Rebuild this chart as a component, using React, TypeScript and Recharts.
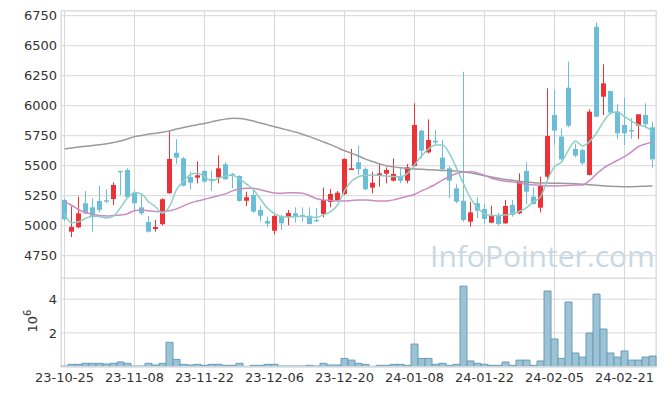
import React from 'react';
import { ComposedChart, Bar, Line, XAxis, YAxis, CartesianGrid } from 'recharts';

// trading days, 23-10-25 .. 24-02-27
const dates = [
    '23-10-25', '23-10-26', '23-10-27', '23-10-30', '23-10-31',
    '23-11-01', '23-11-02', '23-11-03', '23-11-06', '23-11-07', '23-11-08', '23-11-09', '23-11-10',
    '23-11-13', '23-11-14', '23-11-15', '23-11-16', '23-11-17', '23-11-20', '23-11-21', '23-11-22',
    '23-11-23', '23-11-24', '23-11-27', '23-11-28', '23-11-29', '23-11-30',
    '23-12-01', '23-12-04', '23-12-05', '23-12-06', '23-12-07', '23-12-08', '23-12-11', '23-12-12',
    '23-12-13', '23-12-14', '23-12-15', '23-12-18', '23-12-19', '23-12-20', '23-12-21', '23-12-22',
    '23-12-26', '23-12-27', '23-12-28',
    '24-01-02', '24-01-03', '24-01-04', '24-01-05', '24-01-08', '24-01-09', '24-01-10', '24-01-11',
    '24-01-12', '24-01-15', '24-01-16', '24-01-17', '24-01-18', '24-01-19', '24-01-22', '24-01-23',
    '24-01-24', '24-01-25', '24-01-26', '24-01-29', '24-01-30', '24-01-31',
    '24-02-01', '24-02-02', '24-02-05', '24-02-06', '24-02-07', '24-02-08', '24-02-13', '24-02-14',
    '24-02-15', '24-02-16', '24-02-19', '24-02-20', '24-02-21', '24-02-22', '24-02-23', '24-02-26',
    '24-02-27',
];

const opens = [
    5214, 4950, 4987, 5187, 5153, 5206, 5212, 5222, 5456, 5464, 5275, 5153, 5031, 4972, 5012,
    5270, 5608, 5561, 5406, 5400, 5456, 5387, 5403, 5512, 5431, 5414, 5208, 5256, 5131, 5039,
    4958, 5081, 5072, 5103, 5089, 5083, 5047, 5097, 5198, 5214, 5264, 5464, 5528, 5472, 5317,
    5417, 5433, 5375, 5408, 5375, 5498, 5792, 5611, 5708, 5567, 5478, 5311, 5208, 5033, 5187,
    5139, 5025, 5089, 5020, 5172, 5103, 5456, 5242, 5150, 5408, 5922, 5742, 6150, 5639, 5631,
    5423, 6658, 6075, 6122, 5950, 5839, 5797, 5833, 5922, 5820,
];
const highs = [
    5225, 5160, 5242, 5289, 5228, 5330, 5303, 5361, 5458, 5478, 5297, 5256, 5081, 5047, 5228,
    5789, 5720, 5572, 5450, 5537, 5464, 5460, 5587, 5528, 5440, 5420, 5283, 5297, 5165, 5075,
    5090, 5089, 5131, 5153, 5153, 5153, 5145, 5317, 5306, 5289, 5560, 5640, 5667, 5486, 5450,
    5520, 5486, 5561, 5478, 5514, 6020, 5800, 5886, 5797, 5714, 5495, 5345, 6283, 5200, 5237,
    5181, 5167, 5108, 5214, 5214, 5436, 5528, 5320, 5408, 6145, 6131, 5811, 6367, 5686, 5640,
    5970, 6695, 6345, 6125, 6011, 6067, 5895, 5928, 6020, 5867,
];
const lows = [
    5040, 4905, 4978, 5095, 4950, 5110, 5187, 5172, 5256, 5232, 5131, 5089, 4942, 4950, 5003,
    5267, 5514, 5328, 5303, 5353, 5358, 5290, 5353, 5380, 5311, 5200, 5164, 5106, 5033, 4987,
    4928, 4964, 5003, 5025, 5033, 5012, 5030, 5070, 5153, 5206, 5255, 5464, 5423, 5297, 5270,
    5325, 5353, 5367, 5353, 5353, 5492, 5561, 5603, 5681, 5465, 5228, 5187, 5033, 4992, 5062,
    5014, 5020, 5000, 5015, 5075, 5095, 5180, 5175, 5111, 5390, 5672, 5545, 5820, 5570, 5506,
    5418, 5905, 5922, 5938, 5723, 5672, 5723, 5723, 5811, 5483,
];
const closes = [
    5053, 4990, 5103, 5103, 5070, 5131, 5200, 5339, 5445, 5237, 5187, 5103, 4950, 4989, 5220,
    5556, 5567, 5333, 5358, 5420, 5367, 5378, 5478, 5387, 5417, 5206, 5237, 5117, 5083, 5017,
    5081, 5020, 5106, 5081, 5078, 5014, 5036, 5214, 5264, 5275, 5556, 5478, 5472, 5303, 5358,
    5436, 5464, 5431, 5375, 5486, 5839, 5625, 5714, 5694, 5470, 5375, 5200, 5047, 5111, 5125,
    5056, 5089, 5014, 5164, 5089, 5372, 5283, 5181, 5331, 5747, 5792, 5553, 5833, 5583, 5520,
    5950, 5908, 6186, 5942, 5770, 5770, 5785, 5928, 5845, 5553,
];
const volumes = [
    40000, 140000, 140000, 200000, 200000, 200000, 160000, 200000, 280000, 200000, 40000, 40000,
    200000, 100000, 200000, 1440000, 430000, 140000, 100000, 140000, 80000, 140000, 140000, 80000,
    80000, 200000, 20000, 80000, 80000, 140000, 140000, 40000, 40000, 40000, 40000, 80000, 40000,
    200000, 100000, 100000, 490000, 390000, 200000, 140000, 20000, 80000, 80000, 140000, 140000,
    80000, 1340000, 490000, 490000, 140000, 200000, 80000, 140000, 4770000, 340000, 200000, 140000,
    80000, 80000, 280000, 80000, 390000, 390000, 80000, 340000, 4480000, 1640000, 490000, 3830000,
    810000, 570000, 1990000, 4300000, 2230000, 810000, 570000, 930000, 390000, 390000, 570000,
    630000,
];
// moving averages as drawn
const ma5 = [
    5103, 5025, 5033, 5060, 5081, 5075, 5064, 5080, 5150, 5230, 5275, 5265, 5200, 5158, 5103,
    5160, 5300, 5370, 5425, 5436, 5410, 5372, 5395, 5414, 5420, 5390, 5347, 5300, 5220, 5145,
    5100, 5075, 5072, 5075, 5078, 5072, 5070, 5090, 5117, 5172, 5290, 5370, 5408, 5420, 5422,
    5418, 5414, 5410, 5408, 5436, 5506, 5580, 5640, 5672, 5672, 5600, 5480, 5350, 5230, 5150,
    5100, 5085, 5085, 5089, 5100, 5120, 5150, 5200, 5240, 5381, 5492, 5530, 5630, 5705, 5664,
    5700, 5770, 5867, 5936, 5950, 5908, 5872, 5839, 5825, 5783,
];
const ma20 = [
    5200, 5170, 5135, 5110, 5095, 5085, 5081, 5085, 5089, 5100, 5125, 5131, 5125, 5118, 5117,
    5125, 5140, 5165, 5190, 5205, 5220, 5235, 5250, 5265, 5290, 5305, 5311, 5311, 5300, 5285,
    5272, 5270, 5275, 5275, 5270, 5250, 5225, 5215, 5210, 5206, 5206, 5210, 5214, 5214, 5210,
    5206, 5206, 5215, 5230, 5245, 5260, 5290, 5315, 5345, 5380, 5410, 5435, 5448, 5450, 5440,
    5420, 5395, 5380, 5370, 5365, 5355, 5345, 5340, 5335, 5332, 5331, 5332, 5335, 5338, 5340,
    5375, 5430, 5480, 5515, 5545, 5575, 5615, 5660, 5680, 5700,
];
const ma60 = [
    5640, 5648, 5655, 5662, 5668, 5675, 5683, 5693, 5705, 5722, 5742, 5752, 5762, 5770, 5778,
    5790, 5805, 5818, 5830, 5842, 5852, 5865, 5878, 5888, 5895, 5893, 5885, 5872, 5855, 5840,
    5825, 5810, 5795, 5780, 5762, 5742, 5720, 5698, 5675, 5650, 5625, 5605, 5581, 5555, 5535,
    5515, 5500, 5490, 5482, 5477, 5473, 5470, 5467, 5464, 5460, 5458, 5455, 5450, 5440, 5428,
    5416, 5405, 5395, 5385, 5378, 5370, 5364, 5358, 5356, 5355, 5354, 5353, 5352, 5350, 5346,
    5341, 5336, 5332, 5328, 5326, 5325, 5325, 5327, 5329, 5331,
];

const priceTicks = [4750, 5000, 5250, 5500, 5750, 6000, 6250, 6500, 6750];
const volTicks = [2000000, 4000000];

const rows = dates.map((date, i) => ({
    date,
    open: opens[i],
    high: highs[i],
    low: lows[i],
    close: closes[i],
    volume: volumes[i],
    ma5: ma5[i],
    ma20: ma20[i],
    ma60: ma60[i],
}));

const UP = '#ec3237';
const DOWN = '#6cbed8';
const GRID = '#d8d8d8';
const BORDER = '#e6e6e6';
const tickStyle = { fill: '#333', fontSize: 13, fontFamily: 'DejaVu Sans' };

const Candle = (props: any) => {
    const { x, y, width, height, payload } = props;
    const { open, close, high, low } = payload;
    const color = close >= open ? UP : DOWN;
    const top = Math.min(y, y + height);
    const h = Math.abs(height);
    const k = h / (high - low);
    const yo = top + (high - open) * k;
    const yc = top + (high - close) * k;
    const cx = x + width / 2;
    return (
        <g>
            <line x1={cx} x2={cx} y1={top} y2={top + h} stroke={color} strokeWidth={1} />
            <rect x={x} y={Math.min(yo, yc)} width={width} height={Math.max(Math.abs(yo - yc), 1)} fill={color} />
        </g>
    );
};

export default function App() {
    return (
        <div style={{ position: 'absolute', left: 0, top: 0, width: 665, height: 396, background: '#fff' }}>
            <svg width={665} height={396} style={{ position: 'absolute', left: 0, top: 0 }}>
                <text x={430} y={267} fontFamily="Open Sans" fontSize={30} fill="#c6d9e4">InfoPointer.com</text>
                <text x={37} y={321} transform="rotate(-90 37 321)" textAnchor="middle"
                    fontFamily="DejaVu Sans" fontSize={13} fill="#333">
                    10<tspan dy={-6} fontSize={10}>6</tspan>
                </text>
            </svg>
            <div style={{ position: 'absolute', left: 61, top: 10, width: 596, height: 357, boxSizing: 'border-box', border: `1px solid ${BORDER}` }} />
            <div style={{ position: 'absolute', left: 61, top: 278, width: 596, height: 1, background: BORDER }} />

            <div style={{ position: 'absolute', left: 0, top: 0 }}>
                <ComposedChart width={665} height={278} data={rows} margin={{ top: 11, right: 9, bottom: 0, left: 0 }} barCategoryGap={0}>
                    <CartesianGrid
                        stroke={GRID}
                        horizontal={{ strokeDasharray: '4 66', strokeDashoffset: 68.5 } as any}
                        vertical={{ strokeDasharray: '4 26', strokeDashoffset: 27.3 } as any}
                    />
                    <XAxis dataKey="date" hide interval={9} />
                    <YAxis width={61} domain={[4564, 6789]} ticks={priceTicks} allowDataOverflow
                        axisLine={false} tickLine={false} tickSize={0} tickMargin={4} tick={tickStyle} />
                    <Bar dataKey={(d: any) => [d.low, d.high]} barSize={5} shape={Candle} isAnimationActive={false} />
                    <Line dataKey="ma60" type="monotone" stroke="#9a9a9a" strokeWidth={1.5} dot={false} isAnimationActive={false} />
                    <Line dataKey="ma20" type="monotone" stroke="#c98cc3" strokeWidth={1.5} dot={false} isAnimationActive={false} />
                    <Line dataKey="ma5" type="monotone" stroke="#8dcfc5" strokeWidth={1.5} dot={false} isAnimationActive={false} />
                </ComposedChart>
            </div>

            <div style={{ position: 'absolute', left: 0, top: 278 }}>
                <ComposedChart width={665} height={118} data={rows} margin={{ top: 0, right: 9, bottom: 0, left: 0 }} barCategoryGap={0}>
                    <CartesianGrid
                        stroke={GRID}
                        horizontal={{ strokeDasharray: '4 66', strokeDashoffset: 68.5 } as any}
                        vertical={{ strokeDasharray: '4 30', strokeDashoffset: 14.7 } as any}
                    />
                    <XAxis dataKey="date" interval={9} height={29.3} tickSize={0} tickMargin={6}
                        axisLine={{ stroke: BORDER }} tickLine={false} tick={tickStyle} />
                    <YAxis width={61} domain={[0, 5250000]} ticks={volTicks} tickFormatter={(v: number) => String(v / 1000000)}
                        axisLine={false} tickLine={false} tickSize={0} tickMargin={4} tick={tickStyle} />
                    <Bar dataKey="volume" fill="#9cc3d5" stroke="#6a9cb6" strokeWidth={1} isAnimationActive={false} />
                </ComposedChart>
            </div>
        </div>
    );
}
